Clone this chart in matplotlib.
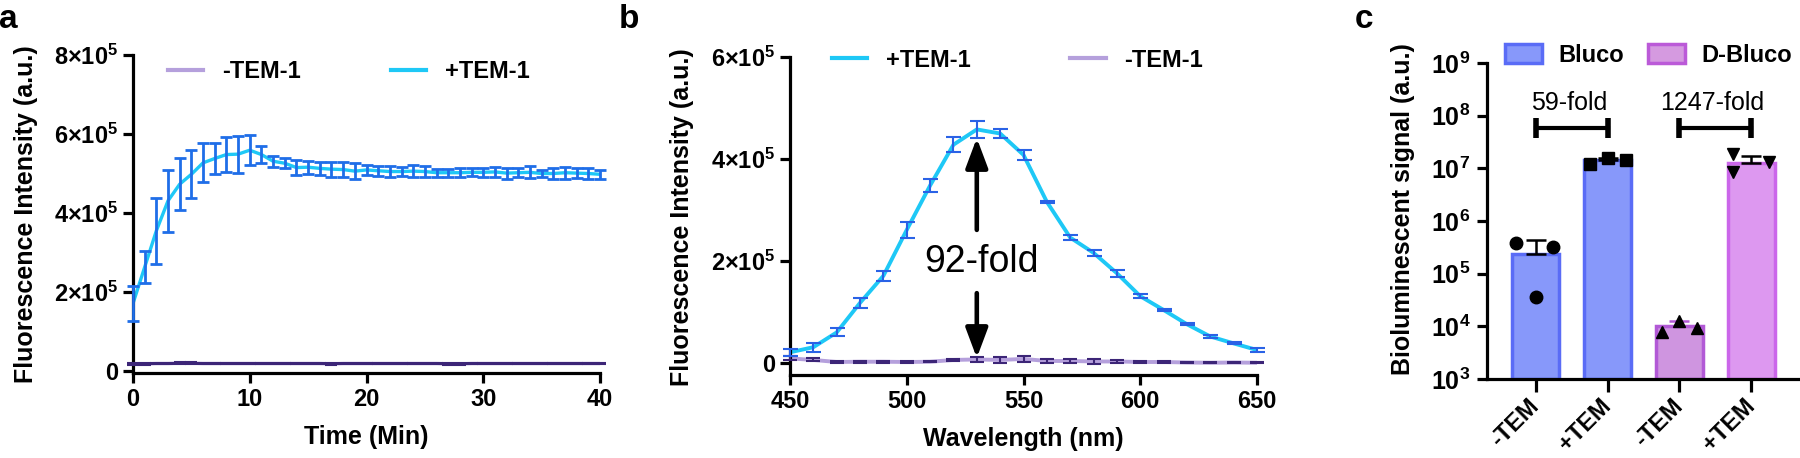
#!/usr/bin/env python
# -*- coding: utf-8 -*-
import matplotlib
matplotlib.use('Agg')
import matplotlib.pyplot as plt
from matplotlib.ticker import FixedLocator, FuncFormatter, NullLocator
from matplotlib.patches import Patch
from matplotlib.lines import Line2D
import numpy as np

plt.rcParams['font.family'] = ['Liberation Sans', 'DejaVu Sans']
plt.rcParams['font.weight'] = 'bold'
plt.rcParams['axes.labelweight'] = 'bold'
plt.rcParams['mathtext.fontset'] = 'custom'
plt.rcParams['mathtext.rm'] = 'Liberation Sans:bold'
plt.rcParams['mathtext.bf'] = 'Liberation Sans:bold'
plt.rcParams['mathtext.default'] = 'bf'

# ---- panel a: kinetics ----
time_min = list(range(0, 41))
plus_a_mean = [1.71e5, 2.63e5, 3.55e5, 4.31e5, 4.73e5, 4.98e5, 5.27e5, 5.38e5,
               5.48e5, 5.49e5, 5.59e5, 5.48e5, 5.31e5, 5.26e5, 5.15e5, 5.16e5,
               5.13e5, 5.11e5, 5.10e5, 5.06e5, 5.09e5, 5.07e5, 5.05e5, 5.05e5,
               5.06e5, 5.05e5, 5.02e5, 5.02e5, 5.02e5, 5.03e5, 5.03e5, 5.04e5,
               5.01e5, 5.02e5, 5.03e5, 5.00e5, 5.00e5, 5.02e5, 5.01e5, 5.00e5,
               4.98e5]
plus_a_sd = [4.4e4, 4.0e4, 8.3e4, 7.8e4, 6.6e4, 6.1e4, 4.9e4, 3.8e4, 4.5e4,
             4.7e4, 3.8e4, 2.2e4, 1.4e4, 1.3e4, 1.9e4, 1.6e4, 1.7e4, 1.9e4,
             1.8e4, 2.1e4, 1.2e4, 1.3e4, 1.5e4, 1.2e4, 1.6e4, 1.4e4, 1.0e4,
             1.0e4, 1.1e4, 1.0e4, 1.2e4, 1.3e4, 1.4e4, 1.1e4, 1.5e4, 1.0e4,
             1.4e4, 1.5e4, 1.2e4, 1.3e4, 1.2e4]
minus_a_mean = [1.8e4, 1.8e4, 1.9e4, 1.9e4, 2.0e4, 2.0e4, 1.9e4, 1.9e4, 1.9e4,
                1.9e4, 1.9e4, 1.9e4, 1.9e4, 1.9e4, 1.9e4, 1.9e4, 1.9e4, 1.8e4,
                1.9e4, 1.9e4, 1.9e4, 1.9e4, 1.9e4, 1.9e4, 1.9e4, 1.9e4, 1.9e4,
                1.8e4, 1.8e4, 1.9e4, 1.9e4, 1.9e4, 1.9e4, 1.9e4, 1.9e4, 1.9e4,
                1.9e4, 1.9e4, 1.9e4, 1.9e4, 1.9e4]
minus_a_sd = [2e3] * 41

# ---- panel b: emission spectra ----
wavelength = list(range(450, 660, 10))
plus_b_mean = [2.1e4, 3.1e4, 6.0e4, 1.18e5, 1.71e5, 2.61e5, 3.48e5, 4.28e5,
               4.58e5, 4.50e5, 4.08e5, 3.16e5, 2.46e5, 2.16e5, 1.76e5, 1.31e5,
               1.04e5, 7.6e4, 5.2e4, 3.85e4, 2.55e4]
plus_b_sd = [7e3, 9e3, 8e3, 1.0e4, 1.0e4, 1.5e4, 1.3e4, 1.5e4, 1.7e4, 8e3,
             9e3, 2e3, 5e3, 6e3, 7e3, 4e3, 2e3, 2e3, 3e3, 2e3, 3e3]
minus_b_mean = [9e3, 6e3, 2e3, 2.5e3, 2.5e3, 2e3, 2.5e3, 6e3, 7e3, 6e3, 8e3,
                4e3, 4e3, 3e3, 3e3, 2e3, 2e3, 1e3, 5e2, 1e3, 5e2]
minus_b_sd = [4e3, 3e3, 1e3, 1.5e3, 1.5e3, 1e3, 1e3, 1.5e3, 5e3, 5e3, 6e3,
              3e3, 3e3, 5e3, 2e3, 2e3, 2e3, 1e3, 1e3, 1e3, 1e3]
fold_b = '92-fold'

# ---- panel c: bioluminescence ----
groups = ['-TEM', '+TEM', '-TEM', '+TEM']
probe = ['Bluco', 'Bluco', 'D-Bluco', 'D-Bluco']
bar_mean = [2.4e5, 1.41e7, 1.01e4, 1.26e7]
bar_upper = [4.37e5, 1.6e7, 1.26e4, 1.7e7]
replicates = [[3.8e5, 3.6e4, 3.2e5],
              [1.2e7, 1.6e7, 1.43e7],
              [7.8e3, 1.26e4, 9.3e3],
              [1.87e7, 8.5e6, 1.32e7]]
fold_c = ['59-fold', '1247-fold']

# styles
CYAN = '#1ec8f6'
BLUE_ERR = '#1f6ee8'
PURPLE_LINE = '#b5a0dc'
PURPLE_ERR = '#3c2577'
BAR_FILL = ['#8798fa', '#8798fa', '#cf95e0', '#dd98f0']
BAR_EDGE = ['#5a6cf6', '#5a6cf6', '#b259d6', '#cb66ea']
ERR_C = ['k', 'k', '#b259d6', 'k']
MARKERS = ['o', 's', '^', 'v']
JITTER = [[-0.27, 0.0, 0.24], [-0.24, 0.0, 0.25], [-0.24, 0.0, 0.25],
          [-0.25, -0.25, 0.25]]


def sci_label(v, pos=None):
    if v == 0:
        return '0'
    exp = int(np.floor(np.log10(v)))
    mant = int(round(v / 10 ** exp))
    return '%d\u00d710$^{%d}$' % (mant, exp)


def style_axes(ax):
    for side in ['top', 'right']:
        ax.spines[side].set_visible(False)
    for side in ['left', 'bottom']:
        ax.spines[side].set_linewidth(2.3)
    ax.tick_params(width=2.3, length=7, labelsize=17, direction='out')


W, H = 1800, 458
fig = plt.figure(figsize=(W / 100, H / 100), dpi=100)
ax_a = fig.add_axes([133 / W, 1 - 373 / H, 467 / W, 318 / H])
ax_b = fig.add_axes([790 / W, 1 - 375 / H, 467 / W, 318 / H])
ax_c = fig.add_axes([1487 / W, 1 - 379 / H, 311 / W, 316 / H])

# panel a
ax_a.plot(time_min, minus_a_mean, color=PURPLE_LINE, lw=2.4, zorder=2)
ax_a.errorbar(time_min, minus_a_mean, yerr=minus_a_sd, fmt='none',
              ecolor=PURPLE_ERR, elinewidth=1.5, capsize=4, capthick=1.5,
              zorder=3, clip_on=False)
ax_a.plot(time_min, plus_a_mean, color=CYAN, lw=2.4, zorder=2)
ax_a.errorbar(time_min, plus_a_mean, yerr=plus_a_sd, fmt='none',
              ecolor=BLUE_ERR, elinewidth=2.0, capsize=4, capthick=2.0,
              zorder=3, clip_on=False)
ax_a.set_xlim(0, 40)
ax_a.set_ylim(-5e3, 8e5)
ax_a.xaxis.set_major_locator(FixedLocator([0, 10, 20, 30, 40]))
ax_a.yaxis.set_major_locator(FixedLocator([0, 2e5, 4e5, 6e5, 8e5]))
ax_a.yaxis.set_major_formatter(FuncFormatter(sci_label))
ax_a.set_xlabel('Time (Min)', fontsize=18)
ax_a.set_ylabel('Fluorescence Intensity (a.u.)', fontsize=18)
style_axes(ax_a)
ax_a.xaxis.set_label_coords(0.5, -0.165)
ax_a.yaxis.set_label_coords(-0.203, 0.5)
h_minus = Line2D([], [], color=PURPLE_LINE, lw=3)
h_plus = Line2D([], [], color=CYAN, lw=3)
ax_a.legend([h_minus, h_plus], ['-TEM-1', '+TEM-1'], ncol=2, frameon=False,
            loc='center left', bbox_to_anchor=(0.075, 0.947),
            borderpad=0, borderaxespad=0, handlelength=1.5,
            handletextpad=0.8, columnspacing=3.8,
            prop={'size': 17, 'weight': 'bold'})

# panel b
ax_b.plot(wavelength, minus_b_mean, color=PURPLE_LINE, lw=2.8, zorder=2)
ax_b.errorbar(wavelength, minus_b_mean, yerr=minus_b_sd, fmt='none',
              ecolor=PURPLE_ERR, elinewidth=1.5, capsize=5, capthick=1.5,
              zorder=3, clip_on=False)
ax_b.plot(wavelength, plus_b_mean, color=CYAN, lw=2.8, zorder=2)
ax_b.errorbar(wavelength, plus_b_mean, yerr=plus_b_sd, fmt='none',
              ecolor='#2a62e6', elinewidth=1.5, capsize=5.4, capthick=1.5,
              zorder=3, clip_on=False)
ax_b.set_xlim(450, 650)
ax_b.set_ylim(-2.35e4, 6e5)
ax_b.xaxis.set_major_locator(FixedLocator([450, 500, 550, 600, 650]))
ax_b.yaxis.set_major_locator(FixedLocator([0, 2e5, 4e5, 6e5]))
ax_b.yaxis.set_major_formatter(FuncFormatter(sci_label))
ax_b.set_xlabel('Wavelength (nm)', fontsize=18)
ax_b.set_ylabel('Fluorescence Intensity (a.u.)', fontsize=18)
style_axes(ax_b)
ax_b.xaxis.set_label_coords(0.5, -0.165)
ax_b.yaxis.set_label_coords(-0.206, 0.497)
ax_b.legend([h_plus, h_minus], ['+TEM-1', '-TEM-1'], ncol=2, frameon=False,
            loc='center left', bbox_to_anchor=(0.09, 0.99),
            borderpad=0, borderaxespad=0, handlelength=1.5,
            handletextpad=0.8, columnspacing=4.2,
            prop={'size': 17, 'weight': 'bold'})
arrow_style = dict(arrowstyle='-|>,head_length=0.4,head_width=0.15',
                   color='k', lw=3.3, mutation_scale=45,
                   shrinkA=0, shrinkB=0)
ax_b.annotate('', xy=(530, 4.41e5), xytext=(530, 2.61e5),
              arrowprops=arrow_style)
ax_b.annotate('', xy=(530, 1.0e4), xytext=(530, 1.37e5),
              arrowprops=arrow_style)
ax_b.text(532, 1.98e5, fold_b, fontsize=27, fontweight='normal',
          ha='center', va='center')

# panel c
ax_c.set_yscale('log')
ax_c.set_ylim(1e3, 1e9)
xpos = np.arange(len(groups))
for i in range(len(groups)):
    ax_c.bar(xpos[i], bar_mean[i] - 1e3, bottom=1e3, width=0.65,
             color=BAR_FILL[i], edgecolor=BAR_EDGE[i], linewidth=2.5,
             zorder=2)
    ax_c.errorbar(xpos[i], bar_mean[i],
                  yerr=[[0], [bar_upper[i] - bar_mean[i]]], fmt='none',
                  ecolor=ERR_C[i], elinewidth=1.8, capsize=7, capthick=1.8,
                  zorder=3)
    ax_c.plot(xpos[i] + np.array(JITTER[i]), replicates[i], MARKERS[i],
              color='k', markersize=9, zorder=4, clip_on=False)
ax_c.set_xlim(-0.68, 3.65)
ax_c.yaxis.set_major_locator(FixedLocator([1e3, 1e4, 1e5, 1e6, 1e7, 1e8,
                                           1e9]))
ax_c.yaxis.set_minor_locator(NullLocator())
ax_c.yaxis.set_major_formatter(
    FuncFormatter(lambda v, p: '10$^{%d}$' % round(np.log10(v))))
ax_c.set_xticks(xpos)
ax_c.set_xticklabels(groups, rotation=45, ha='right', va='center',
                     rotation_mode='anchor')
ax_c.set_ylabel('Bioluminescent signal (a.u.)', fontsize=18)
style_axes(ax_c)
ax_c.tick_params(axis='x', length=9, pad=8, labelsize=17)
ax_c.tick_params(axis='y', pad=5, labelsize=18)
ax_c.yaxis.set_label_coords(-0.232, 0.538)
for x0, x1, txt in [(0, 1, fold_c[0]), (2, 3, fold_c[1])]:
    ax_c.plot([x0, x1], [5.9e7, 5.9e7], color='k', lw=3, marker='|',
              markersize=14, markeredgewidth=4, zorder=3)
    ax_c.text((x0 + x1) / 2 - 0.04, 1.74e8, txt, fontsize=18,
              fontweight='normal', ha='center', va='center')
leg_handles = [Patch(facecolor=BAR_FILL[0], edgecolor=BAR_EDGE[0], lw=2.5),
               Patch(facecolor='#d59ae0', edgecolor='#bb5ad8', lw=2.5)]
ax_c.legend(leg_handles, ['Bluco', 'D-Bluco'], ncol=2, frameon=False,
            loc='center left', bbox_to_anchor=(0.058, 1.025),
            borderpad=0, borderaxespad=0, handlelength=1.57,
            handleheight=0.9, handletextpad=0.7, columnspacing=1.0,
            prop={'size': 17, 'weight': 'bold'})

# panel letters
for x, letter in [(8, 'a'), (629, 'b'), (1364, 'c')]:
    fig.text(x / W, 1 - 28 / H, letter, fontsize=24, fontweight='bold',
             ha='center', va='baseline')

fig.savefig('out.png', dpi=100)
